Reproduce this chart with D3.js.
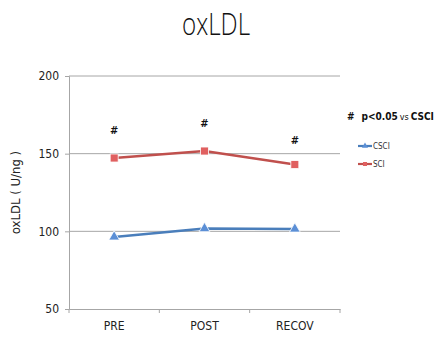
<!DOCTYPE html>
<html>
<head>
<meta charset="utf-8">
<script src="https://cdn.jsdelivr.net/npm/d3@7"></script>
<style>
  body { margin: 0; background: #fff; }
  text { font-family: "DejaVu Sans", sans-serif; font-stretch: condensed; }
</style>
</head>
<body>
<svg id="chart"></svg>
<script>
const categories = ["PRE", "POST", "RECOV"];
const csciValues = [96.4, 101.8, 101.5];
const sciValues = [147.2, 151.7, 143.0];
const hashValues = [165, 170, 159];
const yTicks = [50, 100, 150, 200];

const width = 440, height = 337;
const margin = { top: 76, left: 69 };

const svg = d3.select("#chart").attr("width", width).attr("height", height);

const x = d3.scaleBand().domain(categories).range([margin.left, 340]);
const y = d3.scaleLinear().domain([50, 200]).range([309, margin.top]);

// title, narrow and light like the original
svg.append("text")
  .attr("transform", "translate(216,35) scale(0.78,1)")
  .attr("text-anchor", "middle")
  .attr("font-size", 31)
  .attr("font-weight", 300)
  .style("font-family", "'Open Sans', sans-serif")
  .style("font-stretch", "normal")
  .attr("fill", "#111")
  .text("oxLDL");

// grid lines
svg.append("g")
  .selectAll("line")
  .data(yTicks.filter(d => d > 50))
  .join("line")
  .attr("x1", margin.left).attr("x2", 340)
  .attr("y1", d => y(d)).attr("y2", d => y(d))
  .attr("stroke", "#a6a6a6");

// y axis
const yAxis = svg.append("g")
  .attr("transform", `translate(${margin.left},0)`)
  .call(d3.axisLeft(y).tickValues(yTicks).tickSize(4).tickPadding(6));
yAxis.select(".domain").attr("stroke", "#a6a6a6");
yAxis.selectAll(".tick line").attr("stroke", "#a6a6a6");
yAxis.selectAll(".tick text").attr("font-size", 12).attr("fill", "#222")
  .style("font-family", "'DejaVu Sans', sans-serif");

// x axis
const xAxis = svg.append("g")
  .attr("transform", `translate(0,${y(50)})`)
  .call(d3.axisBottom(x).tickSize(0).tickPadding(12));
xAxis.select(".domain").attr("stroke", "#a6a6a6");
xAxis.selectAll(".tick text").attr("font-size", 12).attr("fill", "#222")
  .style("font-family", "'DejaVu Sans', sans-serif");
xAxis.selectAll(".sep")
  .data([...categories.map(c => x(c)), x.range()[1]])
  .join("line")
  .attr("x1", d => d).attr("x2", d => d)
  .attr("y1", 0).attr("y2", 4)
  .attr("stroke", "#a6a6a6");

// y label
svg.append("text")
  .attr("transform", `translate(20,${y(125)}) rotate(-90)`)
  .attr("text-anchor", "middle")
  .attr("font-size", 13)
  .attr("fill", "#222")
  .text("oxLDL ( U/ng )");

const cx = d => x(d) + x.bandwidth() / 2;
const line = d3.line().x((d, i) => cx(categories[i])).y(d => y(d));

// SCI series
svg.append("path")
  .datum(sciValues)
  .attr("d", line)
  .attr("fill", "none")
  .attr("stroke", "#c0504d")
  .attr("stroke-width", 2.5);
svg.append("g").selectAll("rect")
  .data(sciValues)
  .join("rect")
  .attr("x", (d, i) => cx(categories[i]) - 4)
  .attr("y", d => y(d) - 4)
  .attr("width", 8).attr("height", 8)
  .attr("fill", "#e06060")
  .attr("stroke", "#fff").attr("stroke-width", 0.8);

// CSCI series
svg.append("path")
  .datum(csciValues)
  .attr("d", line)
  .attr("fill", "none")
  .attr("stroke", "#4a7ebb")
  .attr("stroke-width", 2.5);
svg.append("g").selectAll("path")
  .data(csciValues)
  .join("path")
  .attr("d", d3.symbol(d3.symbolTriangle, 50))
  .attr("transform", (d, i) => `translate(${cx(categories[i])},${y(d)})`)
  .attr("fill", "#5b8fd6")
  .attr("stroke", "#fff").attr("stroke-width", 0.8);

// significance marks
svg.append("g").selectAll("text")
  .data(hashValues)
  .join("text")
  .attr("x", (d, i) => cx(categories[i]))
  .attr("y", d => y(d) + 4)
  .attr("text-anchor", "middle")
  .attr("font-size", 11)
  .attr("font-weight", "bold")
  .attr("fill", "#111")
  .text("#");

// legend note
const note = svg.append("text")
  .attr("x", 347).attr("y", 120)
  .attr("font-size", 10)
  .attr("fill", "#111");
note.append("tspan").attr("font-weight", "bold").text("#");
note.append("tspan").attr("dx", 7).attr("font-weight", "bold").text("p<0.05");
note.append("tspan").attr("dx", 2).attr("font-size", 9).text("vs");
note.append("tspan").attr("dx", 2).attr("font-weight", "bold").text("CSCI");

// legend items
const legend = [
  { name: "CSCI", color: "#4a7ebb", fill: "#5b8fd6", shape: d3.symbolTriangle },
  { name: "SCI", color: "#c0504d", fill: "#e06060", shape: d3.symbolSquare }
];
const lg = svg.append("g").selectAll("g")
  .data(legend)
  .join("g")
  .attr("transform", (d, i) => `translate(358,${146 + i * 18})`);
lg.append("line")
  .attr("x1", 0).attr("x2", 14)
  .attr("stroke", d => d.color).attr("stroke-width", 2.2);
lg.append("path")
  .attr("d", d => d3.symbol(d.shape, 16)())
  .attr("transform", "translate(7,0)")
  .attr("fill", d => d.fill);
lg.append("text")
  .attr("x", 15).attr("y", 3)
  .attr("font-size", 8)
  .attr("fill", "#333")
  .text(d => d.name);
</script>
</body>
</html>
